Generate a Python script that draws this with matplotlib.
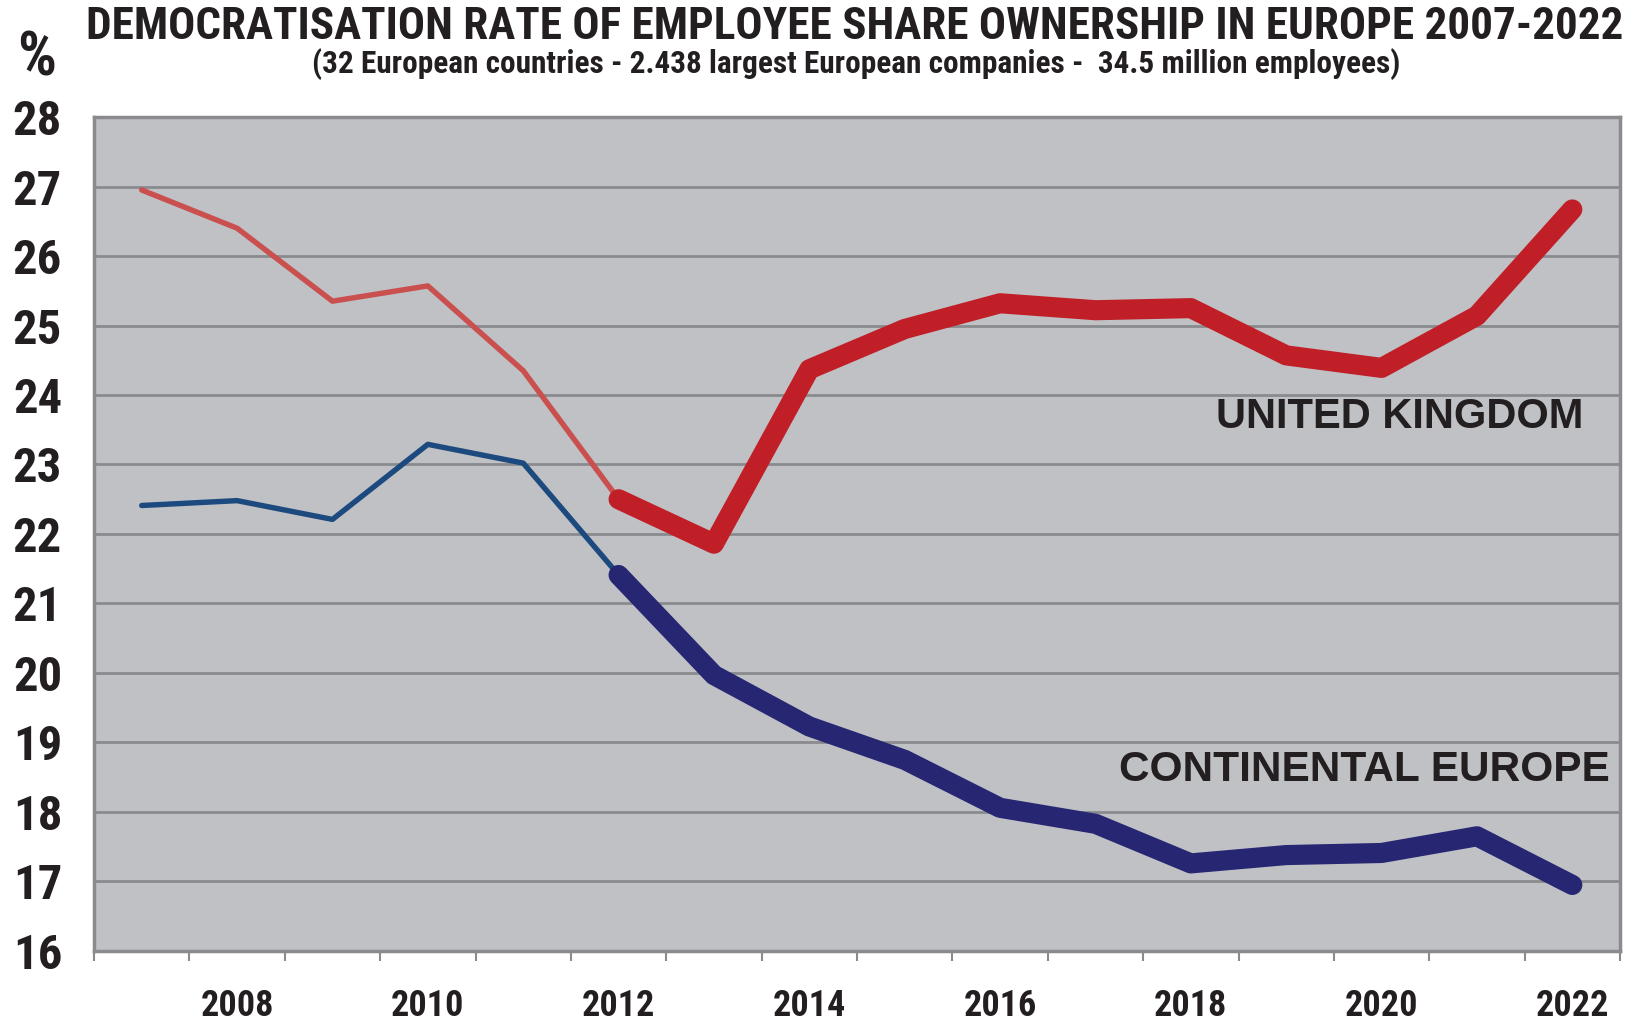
import numpy as np
import matplotlib
matplotlib.use("Agg")
import matplotlib.pyplot as plt
from matplotlib.ticker import FixedLocator, NullFormatter

years = list(range(2007, 2023))
uk = [26.95, 26.4, 25.35, 25.57, 24.35, 22.5, 21.86, 24.37, 24.95, 25.32,
      25.22, 25.25, 24.57, 24.39, 25.14, 26.67]
europe = [22.41, 22.48, 22.21, 23.29, 23.02, 21.41, 19.97, 19.23, 18.75, 18.06,
          17.83, 17.26, 17.38, 17.41, 17.65, 16.95]
split_year = 2012
year_labels = [str(y) for y in years if y % 2 == 0]

narrow = ['Roboto Condensed', 'Open Sans Condensed', 'DejaVu Sans']
wide = ['Liberation Sans', 'DejaVu Sans']
bg = '#c0c1c5'
grid_c = '#8a8b8e'
ink = '#231f20'

fig = plt.figure(figsize=(16.41, 10.22), dpi=100)
ax = fig.add_axes([0.0573, 0.0695, 0.9299, 0.816])
ax.set_facecolor(bg)

x = np.arange(len(years))
k = years.index(split_year)

# thin part up to 2012, thick part from 2012 on
ax.plot(x[:k + 1], uk[:k + 1], color='#c9504e', lw=3.9, solid_capstyle='round', zorder=3)
ax.plot(x[:k + 1], europe[:k + 1], color='#1d4a7e', lw=3.9, solid_capstyle='round', zorder=3)
ax.plot(x[k:], uk[k:], color='#c01f27', lw=14.5, solid_capstyle='round', solid_joinstyle='round', zorder=4)
ax.plot(x[k:], europe[k:], color='#272673', lw=14.5, solid_capstyle='round', solid_joinstyle='round', zorder=4)

ax.set_xlim(-0.5, len(years) - 0.5)
ax.set_ylim(16, 28)
ax.set_yticks(range(16, 29))
ax.yaxis.grid(True, color=grid_c, lw=2)
ax.set_axisbelow(True)
ax.tick_params(axis='y', length=0, pad=23)
for t in ax.get_yticklabels():
    t.set_family(narrow)
    t.set_fontweight('bold')
    t.set_fontsize(35)
    t.set_color(ink)

# year labels at even years, tick marks between categories
ax.set_xticks([years.index(int(s)) for s in year_labels])
ax.set_xticklabels(year_labels, family=narrow, fontweight='bold', fontsize=26, color=ink)
ax.tick_params(axis='x', length=0, pad=27)
ax.xaxis.set_minor_locator(FixedLocator(np.arange(-0.5, len(years), 1.0)))
ax.xaxis.set_minor_formatter(NullFormatter())
ax.tick_params(axis='x', which='minor', length=7, width=1.5, color=grid_c, direction='out')

for s in ax.spines.values():
    s.set_color(grid_c)
    s.set_linewidth(2.5)

ax.text(0.976, 23.52, 'UNITED KINGDOM', transform=ax.get_yaxis_transform(),
        ha='right', va='baseline', fontsize=30, fontweight='bold', family=wide, color=ink)
ax.text(0.993, 18.44, 'CONTINENTAL EUROPE', transform=ax.get_yaxis_transform(),
        ha='right', va='baseline', fontsize=30.5, fontweight='bold', family=wide, color=ink)

fig.text(0.521, 0.974, 'DEMOCRATISATION RATE OF EMPLOYEE SHARE OWNERSHIP IN EUROPE 2007-2022',
         ha='center', va='center', family=narrow, fontweight='bold', fontsize=32.5, color=ink)
fig.text(0.5215, 0.937, '(32 European countries - 2.438 largest European companies -  34.5 million employees)',
         ha='center', va='center', family=narrow, fontweight='bold', fontsize=22.5, color=ink)
fig.text(0.0225, 0.943, '%', ha='center', va='center', family=narrow, fontweight='bold', fontsize=44, color=ink)

fig.savefig('out.png', dpi=100, facecolor='white')
